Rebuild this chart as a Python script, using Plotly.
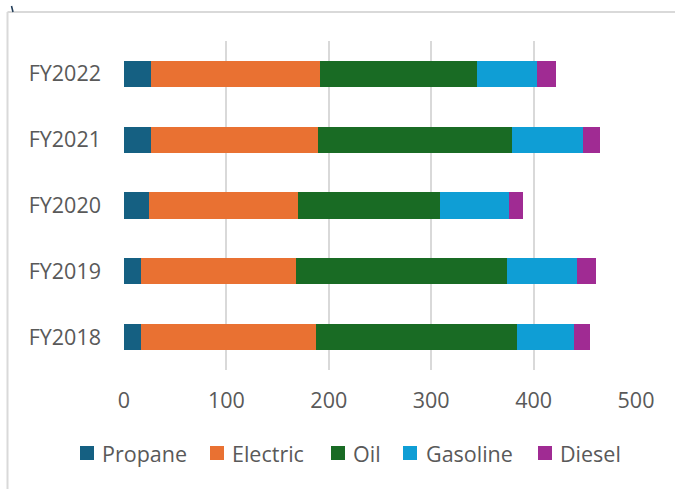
import plotly.graph_objects as go

categories = ["FY2018", "FY2019", "FY2020", "FY2021", "FY2022"]
series_names = ["Propane", "Electric", "Oil", "Gasoline", "Diesel"]
propane = [16.6, 16.6, 24.4, 26.4, 26.4]
electric = [170.5, 151.0, 145.8, 163.3, 164.6]
oil = [196.5, 206.9, 138.0, 189.0, 154.2]
gasoline = [55.4, 68.3, 68.0, 69.7, 58.6]
diesel = [16.2, 18.3, 13.9, 16.6, 17.6]
x_ticks = [0, 100, 200, 300, 400, 500]

colors = ["#156082", "#E97132", "#196B24", "#0F9ED5", "#A02B93"]
series_values = [propane, electric, oil, gasoline, diesel]

W, H = 675, 489
PL, PR, PT, PB = 124, 636, 41, 370  # plot area in pixels
FONT = "Open Sans"
FS = 21.5
TXT = "#595959"
GRID = "#d9d9d9"


def px(x):
    return (x - PL) / (PR - PL)


def py(y):
    return (PB - y) / (PB - PT)


fig = go.Figure()
for name, vals, col in zip(series_names, series_values, colors):
    fig.add_trace(go.Bar(
        y=categories, x=vals, name=name, orientation="h",
        marker=dict(color=col, line=dict(width=0)),
        showlegend=False,
    ))

fig.update_layout(
    width=W, height=H,
    margin=dict(l=PL, r=W - PR, t=PT, b=H - PB, pad=0),
    barmode="stack", bargap=0.6,
    plot_bgcolor="white", paper_bgcolor="white",
    font=dict(family=FONT, size=FS, color=TXT),
)
fig.update_xaxes(
    range=[0, 500], tickvals=x_ticks, ticktext=[str(v) for v in x_ticks],
    showgrid=True, gridcolor=GRID, gridwidth=2, zeroline=False,
    showline=False, ticks="", ticklabelstandoff=15,
    tickfont=dict(family=FONT, size=FS, color=TXT),
)
fig.update_yaxes(
    categoryorder="array", categoryarray=categories,
    showgrid=False, zeroline=False, showline=False, ticks="",
    ticklabelstandoff=22,
    tickfont=dict(family=FONT, size=FS, color=TXT),
)

shapes = []
# chart border (top and left)
shapes.append(dict(type="line", xref="paper", yref="paper",
                   x0=px(7.5), x1=px(W + 5), y0=py(12), y1=py(12),
                   line=dict(color=GRID, width=2)))
shapes.append(dict(type="line", xref="paper", yref="paper",
                   x0=px(7.5), x1=px(7.5), y0=py(12), y1=py(H + 5),
                   line=dict(color=GRID, width=2)))
# small crop artifact at top-left
shapes.append(dict(type="line", xref="paper", yref="paper",
                   x0=px(11.5), x1=px(13), y0=py(6), y1=py(12),
                   line=dict(color="#1f3b57", width=1.5)))

# custom legend
leg_sq_x = [80, 210, 331, 403, 538]
leg_txt_x = [100, 230, 351, 424, 558]
leg_y = 453
sq = 14
annotations = []
for name, col, sx, tx in zip(series_names, colors, leg_sq_x, leg_txt_x):
    shapes.append(dict(type="rect", xref="paper", yref="paper",
                       x0=px(sx), x1=px(sx + sq), y0=py(leg_y - sq / 2), y1=py(leg_y + sq / 2),
                       fillcolor=col, line=dict(width=0)))
    annotations.append(dict(xref="paper", yref="paper", x=px(tx), y=py(leg_y),
                            xanchor="left", yanchor="middle", showarrow=False,
                            text=name, font=dict(family=FONT, size=FS, color=TXT)))

fig.update_layout(shapes=shapes, annotations=annotations)
fig.write_html("out.html")
